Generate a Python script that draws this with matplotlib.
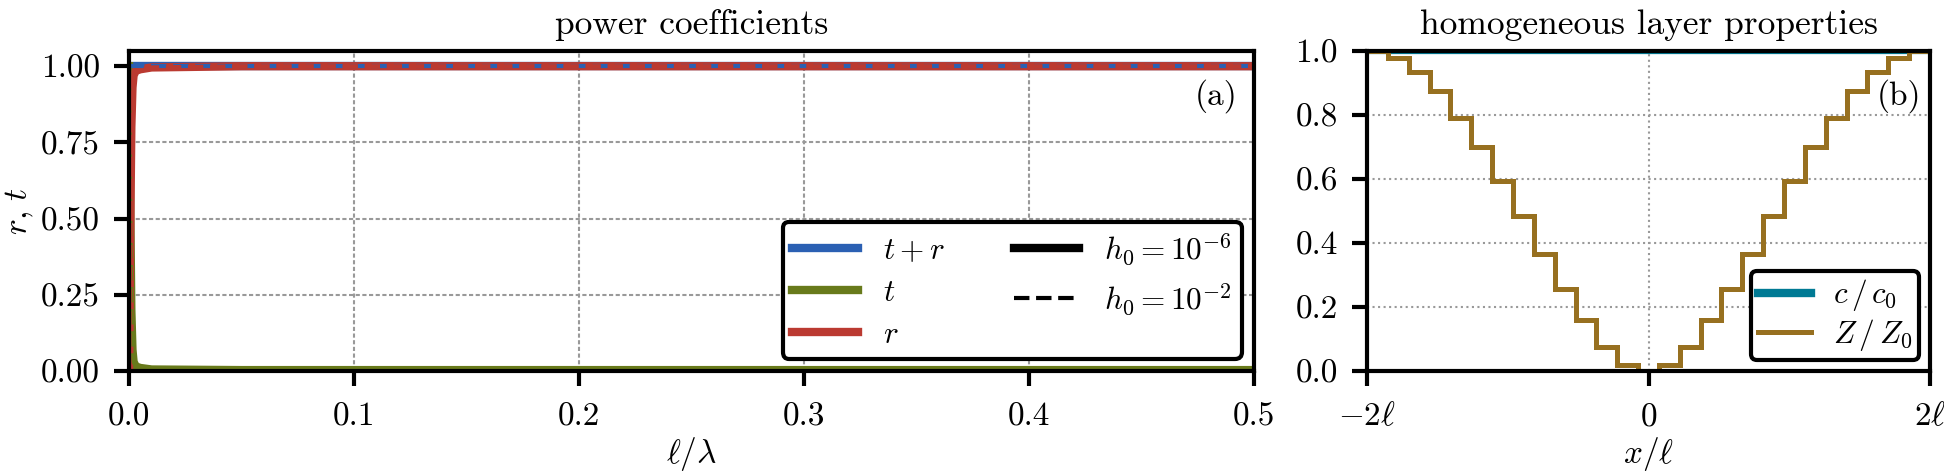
import numpy as np
import matplotlib
matplotlib.use("Agg")
import matplotlib.pyplot as plt
from matplotlib.lines import Line2D

plt.rcParams.update({
    "font.family": "serif",
    "font.serif": ["cmr10"],
    "mathtext.fontset": "cm",
    "axes.formatter.use_mathtext": True,
    "font.size": 8,
    "axes.linewidth": 1.0,
    "xtick.major.width": 1.0,
    "ytick.major.width": 1.0,
    "xtick.major.size": 3.5,
    "ytick.major.size": 3.5,
    "xtick.major.pad": 4.0,
})

# ---------------- data ----------------
# panel (a): power coefficients vs l/lambda
ell_lambda = [0.0, 0.0005, 0.001, 0.0015, 0.002, 0.003, 0.005, 0.01, 0.05, 0.1, 0.2, 0.3, 0.4, 0.5]
r_h6 = [0.0, 0.45, 0.80, 0.93, 0.97, 0.985, 0.99, 0.996, 1.0, 1.0, 1.0, 1.0, 1.0, 1.0]
t_h6 = [1.0, 0.55, 0.20, 0.07, 0.03, 0.015, 0.01, 0.005, 0.003, 0.003, 0.003, 0.003, 0.003, 0.003]
tr_h6 = [1.0, 1.0, 1.0, 1.0, 1.0, 1.0, 1.0, 1.0, 1.0, 1.0, 1.0, 1.0, 1.0, 1.0]
r_h2 = [0.0, 0.45, 0.80, 0.93, 0.97, 0.985, 0.99, 0.996, 1.0, 1.0, 1.0, 1.0, 1.0, 1.0]
t_h2 = [1.0, 0.55, 0.20, 0.07, 0.03, 0.015, 0.01, 0.005, 0.003, 0.003, 0.003, 0.003, 0.003, 0.003]
tr_h2 = [1.0, 1.0, 1.0, 1.0, 1.0, 1.0, 1.0, 1.0, 1.0, 1.0, 1.0, 1.0, 1.0, 1.0]

# panel (b): homogeneous layer properties (27 layers on [-2l, 2l])
n_layers = 27
z_layers = [1.0, 0.977, 0.935, 0.874, 0.791, 0.700, 0.593, 0.483, 0.366, 0.255, 0.158, 0.075, 0.019,
            0.0,
            0.019, 0.075, 0.158, 0.255, 0.366, 0.483, 0.593, 0.700, 0.791, 0.874, 0.935, 0.977, 1.0]
c_layers = [1.0] * n_layers

blue = "#2b60b3"
green = "#687a1b"
red = "#bb3a31"
teal = "#007a94"
brown = "#977020"

fig = plt.figure(figsize=(6.48, 1.5767), dpi=300)
ax1 = fig.add_axes([0.0664, 0.2156, 0.5787, 0.6766])
ax2 = fig.add_axes([0.7032, 0.2156, 0.2896, 0.6766])

# ---- panel (a)
for (tr, t, r, ls, lw) in [(tr_h6, t_h6, r_h6, "-", 2.0), (tr_h2, t_h2, r_h2, "--", 1.0)]:
    ax1.plot(ell_lambda, tr, color=blue, ls=ls, lw=lw)
    ax1.plot(ell_lambda, t, color=green, ls=ls, lw=lw)
    ax1.plot(ell_lambda, r, color=red, ls=ls, lw=lw)

ax1.set_xlim(0, 0.5)
ax1.set_ylim(0, 1.05)
ax1.set_xticks([0.0, 0.1, 0.2, 0.3, 0.4, 0.5])
ax1.set_yticks([0.0, 0.25, 0.5, 0.75, 1.0])
ax1.set_yticklabels(["0.00", "0.25", "0.50", "0.75", "1.00"])
ax1.set_xticklabels(["0.0", "0.1", "0.2", "0.3", "0.4", "0.5"])
ax1.grid(True, ls=(0, (2, 1.2)), color="#999999", lw=0.5)
ax1.set_axisbelow(True)
ax1.set_xlabel(r"$\ell/\lambda$")
ax1.set_ylabel(r"$r,\, t$", va="center", ha="center")
ax1.xaxis.set_label_coords(0.5, -0.2)
ax1.yaxis.set_label_coords(-0.097, 0.5)
ax1.set_title("power coefficients", fontsize=8.5, pad=4)
ax1.text(0.985, 0.86, "(a)", transform=ax1.transAxes, ha="right", va="center")

handles = [
    Line2D([], [], color=blue, lw=2.0, label=r"$t+r$"),
    Line2D([], [], color=green, lw=2.0, label=r"$t$"),
    Line2D([], [], color=red, lw=2.0, label=r"$r$"),
    Line2D([], [], color="black", lw=2.0, label=r"$h_0=10^{-6}$"),
    Line2D([], [], color="black", lw=1.0, ls="--", label=r"$h_0=10^{-2}$"),
]
leg = ax1.legend(handles=handles, ncol=2, loc="lower right", framealpha=1.0,
                 edgecolor="black", fancybox=True, columnspacing=2.2, fontsize=7.5,
                 handlelength=2.1, labelspacing=0.45, borderaxespad=0.4, borderpad=0.3)
leg.get_frame().set_linewidth(1.0)

# ---- panel (b)
x_edges = np.linspace(-2, 2, n_layers + 1)
ax2.stairs(c_layers, x_edges, color=teal, lw=1.5, baseline=None)
ax2.stairs(z_layers, x_edges, color=brown, lw=1.2, baseline=None)
ax2.set_xlim(-2, 2)
ax2.set_ylim(0, 1)
ax2.set_xticks([-2, 0, 2])
ax2.set_xticklabels([r"$-2\ell$", r"$0$", r"$2\ell$"])
ax2.set_yticks([0.0, 0.2, 0.4, 0.6, 0.8, 1.0])
ax2.set_yticklabels(["0.0", "0.2", "0.4", "0.6", "0.8", "1.0"])
ax2.grid(True, ls=":", color="#999999", lw=0.5)
ax2.set_axisbelow(True)
ax2.set_xlabel(r"$x/\ell$")
ax2.xaxis.set_label_coords(0.5, -0.2)
ax2.set_title("homogeneous layer properties", fontsize=8.5, pad=4)
ax2.text(0.985, 0.86, "(b)", transform=ax2.transAxes, ha="right", va="center")
handles2 = [Line2D([], [], color=teal, lw=2.0, label=r"$c\,/\,c_0$"),
            Line2D([], [], color=brown, lw=1.2, label=r"$Z\,/\,Z_0$")]
leg2 = ax2.legend(handles=handles2, loc="lower right", framealpha=1.0, edgecolor="black",
                  fancybox=True, fontsize=7.5, handlelength=1.7, labelspacing=0.12,
                  borderaxespad=0.35, borderpad=0.22, handletextpad=0.7)
leg2.get_frame().set_linewidth(1.0)

fig.savefig("out.png", dpi=300)
